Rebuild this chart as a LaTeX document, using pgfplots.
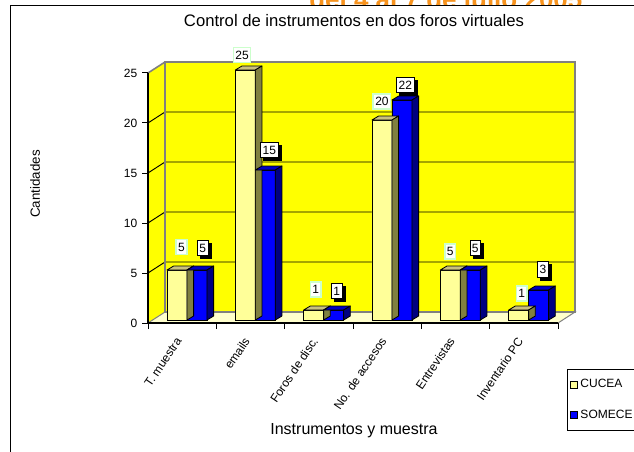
\documentclass[border=0pt]{standalone}
\usepackage{fontspec}
\setmainfont{Liberation Sans}
\usepackage{pgfplots}
\usepackage{pgfplotstable}
\pgfplotsset{compat=1.18}
\usetikzlibrary{shadows}
\definecolor{wallY}{HTML}{FFFF00}
\definecolor{floorY}{HTML}{FFFFCC}
\definecolor{cuFront}{HTML}{FFFF99}
\definecolor{cuTop}{HTML}{C8C080}
\definecolor{cuSide}{HTML}{808040}
\definecolor{soFront}{HTML}{0000FF}
\definecolor{soTop}{HTML}{0000C0}
\definecolor{soSide}{HTML}{000080}
\definecolor{wallEdge}{HTML}{808080}
\definecolor{orangeT}{HTML}{F7931E}
\definecolor{lblGreen}{HTML}{CCFFCC}

% values and label offsets (px)
\pgfplotstableread{
x v dx dy
0 5 4.4 23
1 25 -3.3 15
2 1 2 20.7
3 20 0 18.3
4 5 0 18.3
5 1 3 16.7
}\cucea
\pgfplotstableread{
x v dx dy
0 5 5.7 22
1 15 4 19.7
2 1 3 19
3 22 3.3 15
4 5 5 21.7
5 3 4.4 20.7
}\somece

% 3D faces of a bar, drawn at the bar top: #1 left, #2 right, #3 top colour, #4 side colour
\newcommand\prism[4]{%
  \filldraw[fill=#3, draw=black, line width=0.6pt, line join=round]
    (#1,0pt) -- ({#1+5pt},3pt) -- ({#2+5pt},3pt) -- (#2,0pt) -- cycle;
  \filldraw[fill=#4, draw=black, line width=0.6pt, line join=round]
    (#2,0pt) -- ({#2+5pt},3pt) -- ({#2+5pt},{3pt-\vv*7.5pt}) -- (#2,{-\vv*7.5pt}) -- cycle;
}

\begin{document}
\begin{tikzpicture}
\path[use as bounding box] (0pt,0pt) rectangle (475.5pt,-339pt);
\clip (0pt,0pt) rectangle (475.5pt,-339pt);

% banner text behind the chart area, chart area and frame
\begin{scope}[x=0.75pt,y=-0.75pt]
\node[anchor=base west, inner sep=0pt, text=orangeT, font=\bfseries\fontsize{19.5}{20}\selectfont] at (309,9) {del 4 al 7 de julio 2005};
\fill[white] (10.5,5.5) rectangle (700,500);
\draw[black, line width=1.2pt] (10.5,500) -- (10.5,5.5) -- (700,5.5);
\end{scope}

% frame axis (front axes, walls, floor, grid)
\begin{axis}[
  at={(111pt,-242.25pt)}, anchor=south west,
  scale only axis, width=307.5pt, height=187.5pt,
  xmin=-0.5, xmax=5.5, ymin=0, ymax=25, clip=false,
  axis on top,
  axis x line*=bottom, axis y line*=left,
  axis line style={black, line width=0.9pt},
  xtick={-0.5,0.5,...,5.5}, xticklabels={},
  ytick={0,5,...,25},
  tick align=outside, major tick length=4.5pt,
  tick style={black, line width=0.75pt},
  /pgf/number format/assume math mode=true,
  tick label style={font=\fontsize{9}{10}\selectfont},
  extra x ticks={0,...,5},
  extra x tick labels={T. muestra, emails, Foros de disc., No. de accesos, Entrevistas, Inventario PC},
  extra x tick style={major tick length=0pt,
     tick label style={yshift=-13.5pt, rotate=56, anchor=base east, inner sep=0pt,
        font=\fontsize{9}{10}\selectfont}},
  every axis title shift=0pt,
  title={Control de instrumentos en dos foros virtuales},
  title style={at={(0.5024,1.186)}, anchor=base, font=\fontsize{12.5}{14}\selectfont},
  xlabel={Instrumentos y muestra},
  xlabel style={at={(0.5024,-0.432)}, anchor=center, font=\fontsize{12}{14}\selectfont},
  ylabel={Cantidades},
  ylabel style={at={(-0.2756,0.556)}, anchor=center, font=\fontsize{10}{12}\selectfont},
]
% back wall
\fill[wallY] (-0.2512,1.1) rectangle (5.7488,26.1);
% left wall
\fill[wallY] (-0.5,0) -- (-0.2512,1.1) -- (-0.2512,26.1) -- (-0.5,25) -- cycle;
% floor
\filldraw[fill=floorY, draw=wallEdge, line width=0.75pt] (-0.5,0) -- (5.5,0) -- (5.7488,1.1) -- (-0.2512,1.1) -- cycle;
% grid lines
\draw[black, line width=0.7pt] (-0.5,5) -- (-0.2512,6.1) -- (5.7488,6.1);
\draw[black, line width=0.7pt] (-0.5,10) -- (-0.2512,11.1) -- (5.7488,11.1);
\draw[black, line width=0.7pt] (-0.5,15) -- (-0.2512,16.1) -- (5.7488,16.1);
\draw[black, line width=0.7pt] (-0.5,20) -- (-0.2512,21.1) -- (5.7488,21.1);
% wall edges
\draw[wallEdge, line width=1.5pt] (-0.2512,1.1) rectangle (5.7488,26.1);
\draw[wallEdge, line width=1.2pt] (-0.5,25) -- (-0.2512,26.1);
\end{axis}

% bars axis
\begin{axis}[
  at={(111pt,-240pt)}, anchor=south west,
  scale only axis, width=307.5pt, height=187.5pt,
  xmin=-0.5, xmax=5.5, ymin=0, ymax=25, clip=false,
  hide axis,
  /pgf/number format/assume math mode=true,
  legend style={at={(1.022,-0.196)}, anchor=north west, draw=black, line width=0.6pt,
     font=\fontsize{9}{10}\selectfont, row sep=11pt, inner xsep=2pt, inner ysep=5.5pt},
  legend cell align=left,
]
\addlegendimage{legend image code/.code={\draw[fill=cuFront, draw=black, line width=0.6pt] (0pt,-2.6pt) rectangle (5.2pt,2.6pt);}}
\addlegendentry{CUCEA}
\addlegendimage{legend image code/.code={\draw[fill=soFront, draw=black, line width=0.6pt] (0pt,-2.6pt) rectangle (5.2pt,2.6pt);}}
\addlegendentry{SOMECE}
\addplot[scatter, only marks, forget plot, mark=*, mark size=0pt, point meta=y,
  visualization depends on={\thisrow{v}\as\vv},
  scatter/@pre marker code/.code={\prism{-11.4pt}{3.6pt}{cuTop}{cuSide}},
  scatter/@post marker code/.code={}]
  table[x=x,y=v]{\cucea};
\addplot[ybar, forget plot, bar width=15pt, bar shift=-3.9pt, fill=cuFront, draw=black, line width=0.6pt,
  point meta=y, nodes near coords,
  visualization depends on={\thisrow{dx}\as\ldx},
  visualization depends on={\thisrow{dy}\as\ldy},
  every node near coord/.append style={anchor=center, xshift=\ldx*0.75pt-3.9pt, yshift=\ldy*0.75pt,
     fill=white, draw=lblGreen, line width=1.2pt, inner xsep=1.5pt, inner ysep=2.5pt,
     font=\fontsize{9}{10}\selectfont, text=black}]
  table[x=x,y=v]{\cucea};
\addplot[scatter, only marks, forget plot, mark=*, mark size=0pt, point meta=y,
  visualization depends on={\thisrow{v}\as\vv},
  scatter/@pre marker code/.code={\prism{3.6pt}{18.6pt}{soTop}{soSide}},
  scatter/@post marker code/.code={}]
  table[x=x,y=v]{\somece};
\addplot[ybar, forget plot, bar width=15pt, bar shift=11.1pt, fill=soFront, draw=black, line width=0.6pt,
  point meta=y, nodes near coords,
  visualization depends on={\thisrow{dx}\as\ldx},
  visualization depends on={\thisrow{dy}\as\ldy},
  every node near coord/.append style={anchor=center, xshift=\ldx*0.75pt+11.1pt, yshift=\ldy*0.75pt,
     fill=white, draw=black, line width=0.5pt, inner xsep=1.5pt, inner ysep=2.5pt,
     drop shadow={shadow xshift=2.25pt, shadow yshift=-2.25pt, fill=black, opacity=1},
     font=\fontsize{9}{10}\selectfont, text=black}]
  table[x=x,y=v]{\somece};
\end{axis}
\end{tikzpicture}
\end{document}
